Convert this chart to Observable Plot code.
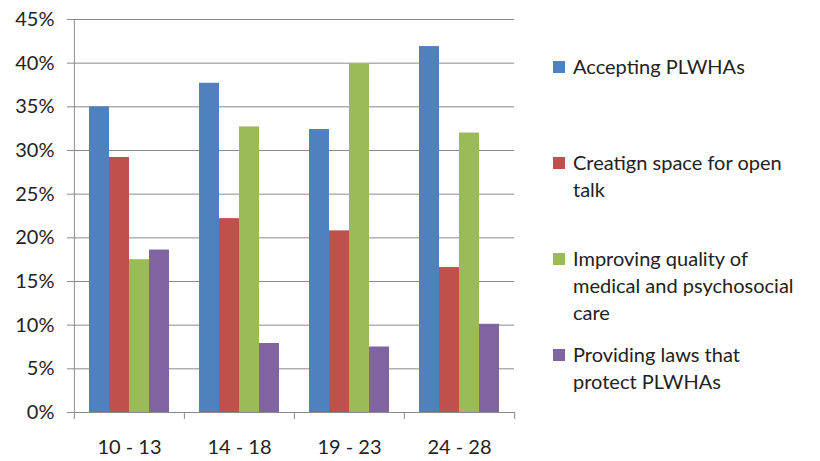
<!DOCTYPE html>
<html><head><meta charset="utf-8">
<script src="https://cdn.jsdelivr.net/npm/d3@7"></script>
<script src="https://cdn.jsdelivr.net/npm/@observablehq/plot@0.6"></script>
<style>
body{margin:0;background:#fff;font-family:Lato, sans-serif;}
#wrap{position:relative;width:820px;height:461px;overflow:hidden;}
#legend{position:absolute;left:553px;top:0;}
.item{position:absolute;left:0;display:flex;align-items:flex-start;font-size:20px;line-height:27px;color:#222;}
.sw{width:12px;height:12px;margin-top:8px;margin-right:8px;flex:none;}
.lbl{width:228px;}
</style></head><body><div id="wrap"><div id="legend"></div></div>
<script>
const groups = ["10 - 13", "14 - 18", "19 - 23", "24 - 28"];
const series = ["Accepting PLWHAs", "Creatign space for open talk", "Improving quality of medical and psychosocial care", "Providing laws that protect PLWHAs"];
const colors = ["#4F81BD", "#C0504D", "#9BBB59", "#8064A2"];
const accepting   = [0.350, 0.377, 0.324, 0.419];
const openTalk    = [0.292, 0.222, 0.208, 0.166];
const medicalCare = [0.175, 0.327, 0.399, 0.320];
const laws        = [0.186, 0.079, 0.075, 0.101];
const yTicks = [0, 0.05, 0.10, 0.15, 0.20, 0.25, 0.30, 0.35, 0.40, 0.45];

const seriesValues = [accepting, openTalk, medicalCare, laws];
const data = groups.flatMap((g, i) => seriesValues.map((arr, j) => ({group: g, series: series[j], value: arr[i]})));

const W = 820, H = 461, mL = 73, mR = 305, mT = 19, mB = 49;
const plotH = H - mT - mB;
const facetW = (W - mL - mR) / groups.length;
const padOuter = 0.75;
const step = facetW / (series.length + 2 * padOuter);
const edge = (padOuter + 0.5) * step;
const gray = "#8a8a8a";

const chart = Plot.plot({
  width: W, height: H,
  marginLeft: mL, marginRight: mR, marginTop: mT, marginBottom: mB,
  style: {fontFamily: "Lato, sans-serif", fontSize: "20px", color: "#222", background: "white"},
  fx: {domain: groups, paddingInner: 0, paddingOuter: 0, label: null},
  x: {domain: series, paddingInner: 0, paddingOuter: padOuter, axis: null},
  y: {domain: [0, 0.45], label: null},
  color: {domain: series, range: colors},
  marks: [
    Plot.ruleY(yTicks, {stroke: gray, strokeWidth: 1}),
    Plot.barY(data, {fx: "group", x: "series", y: "value", fill: "series"}),
    Plot.ruleX([{g: groups[0], s: series[0]}], {fx: "g", x: "s", dx: -edge, insetBottom: -7, stroke: gray}),
    Plot.ruleX(groups.slice(1).map(g => ({g, s: series[0]})), {fx: "g", x: "s", dx: -edge, insetTop: plotH, insetBottom: -7, stroke: gray}),
    Plot.ruleX([{g: groups[groups.length - 1], s: series[series.length - 1]}], {fx: "g", x: "s", dx: edge, insetTop: plotH, insetBottom: -7, stroke: gray}),
    Plot.axisY({ticks: yTicks, tickFormat: d3.format(".0%"), tickSize: 7, tickPadding: 13, stroke: gray, fill: "#222", label: null}),
    Plot.axisFx({anchor: "bottom", tickSize: 0, tickPadding: 27, fill: "#222", label: null})
  ]
});
document.getElementById("wrap").prepend(chart);

const legend = document.getElementById("legend");
series.forEach((s, i) => {
  const item = document.createElement("div");
  item.className = "item";
  item.style.top = (53 + i * 96) + "px";
  const sw = document.createElement("div");
  sw.className = "sw";
  sw.style.background = colors[i];
  const lbl = document.createElement("div");
  lbl.className = "lbl";
  lbl.textContent = s;
  item.append(sw, lbl);
  legend.append(item);
});
</script></body></html>
